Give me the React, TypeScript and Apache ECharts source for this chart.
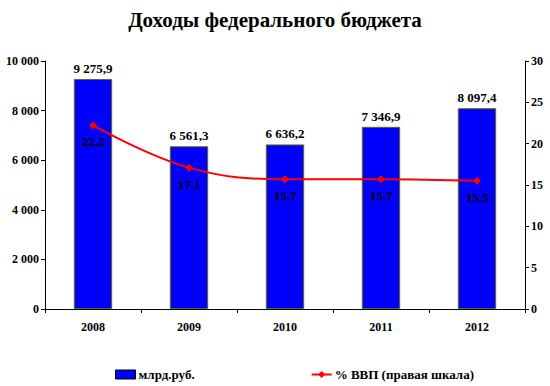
import React, { useEffect, useRef } from "react";
import * as echarts from "echarts";

const years = ["2008", "2009", "2010", "2011", "2012"];
const revenue = [9275.9, 6561.3, 6636.2, 7346.9, 8097.4];
const gdpShare = [22.2, 17.1, 15.7, 15.7, 15.5];
const leftTicks = [0, 2000, 4000, 6000, 8000, 10000];

const FONT = "Liberation Serif";

const fmtNum = (v: number, dec: number) => {
  const s = v.toFixed(dec);
  const [i, d] = s.split(".");
  const ii = i.replace(/\B(?=(\d{3})+(?!\d))/g, " ");
  return d ? ii + "," + d : ii;
};

export default function App() {
  const ref = useRef<HTMLDivElement>(null);
  useEffect(() => {
    if (!ref.current) return;
    const chart = echarts.init(ref.current, null, { renderer: "svg" });
    chart.setOption({
      animation: false,
      backgroundColor: "#ffffff",
      title: {
        text: "Доходы федерального бюджета",
        left: "center",
        top: 4,
        textStyle: { fontFamily: FONT, fontSize: 21, fontWeight: "bold", color: "#000" },
      },
      legend: {
        bottom: 0,
        left: 110,
        itemGap: 116,
        itemWidth: 20,
        itemHeight: 9,
        textStyle: { fontFamily: FONT, fontSize: 13, fontWeight: "bold", color: "#000", padding: [0, 0, 0, -2] },
        data: [
          { name: "млрд.руб.", icon: "rect", itemStyle: { borderColor: "#000", borderWidth: 1 } },
          { name: "% ВВП (правая шкала)" },
        ],
      },
      grid: { left: 45, right: 25, top: 61, bottom: 77 },
      xAxis: {
        type: "category",
        data: years,
        axisLine: { lineStyle: { color: "#000", width: 1 } },
        axisTick: { show: true, inside: false, length: 4, lineStyle: { color: "#000" } },
        axisLabel: { fontFamily: FONT, fontSize: 12, fontWeight: "bold", color: "#000", margin: 12 },
      },
      yAxis: [
        {
          type: "value",
          min: 0,
          max: 10000,
          interval: 2000,
          splitLine: { show: false },
          axisLine: { show: true, lineStyle: { color: "#000" } },
          axisTick: { show: true, length: 4, lineStyle: { color: "#000" } },
          axisLabel: {
            fontFamily: FONT,
            fontSize: 12,
            fontWeight: "bold",
            color: "#000",
            margin: 6,
            formatter: (v: number) => (leftTicks.includes(v) ? fmtNum(v, 0) : ""),
          },
        },
        {
          type: "value",
          min: 0,
          max: 30,
          interval: 5,
          position: "right",
          splitLine: { show: false },
          axisLine: { show: true, lineStyle: { color: "#000" } },
          axisTick: { show: true, length: 4, lineStyle: { color: "#000" } },
          axisLabel: { fontFamily: FONT, fontSize: 12, fontWeight: "bold", color: "#000", margin: 6 },
        },
      ],
      series: [
        {
          name: "млрд.руб.",
          type: "bar",
          data: revenue,
          barWidth: "40%",
          itemStyle: { color: "#0000ff", borderColor: "#6b6b00", borderWidth: 1 },
          label: {
            show: true,
            position: "top",
            distance: 4,
            fontFamily: FONT,
            fontSize: 13,
            fontWeight: "bold",
            color: "#000",
            formatter: (p: any) => fmtNum(p.value, 1),
          },
        },
        {
          name: "% ВВП (правая шкала)",
          type: "line",
          yAxisIndex: 1,
          data: gdpShare,
          smooth: 0.4,
          symbol: "diamond",
          symbolSize: 8,
          lineStyle: { color: "#ff0000", width: 2 },
          itemStyle: { color: "#ff0000" },
          label: {
            show: true,
            position: "bottom",
            distance: 6,
            fontFamily: FONT,
            fontSize: 13,
            fontWeight: "bold",
            color: "#000",
            formatter: (p: any) => fmtNum(p.value, 1),
          },
        },
      ],
    });
    return () => chart.dispose();
  }, []);
  return <div ref={ref} style={{ width: 550, height: 386, position: "absolute", left: 0, top: 0 }} />;
}
